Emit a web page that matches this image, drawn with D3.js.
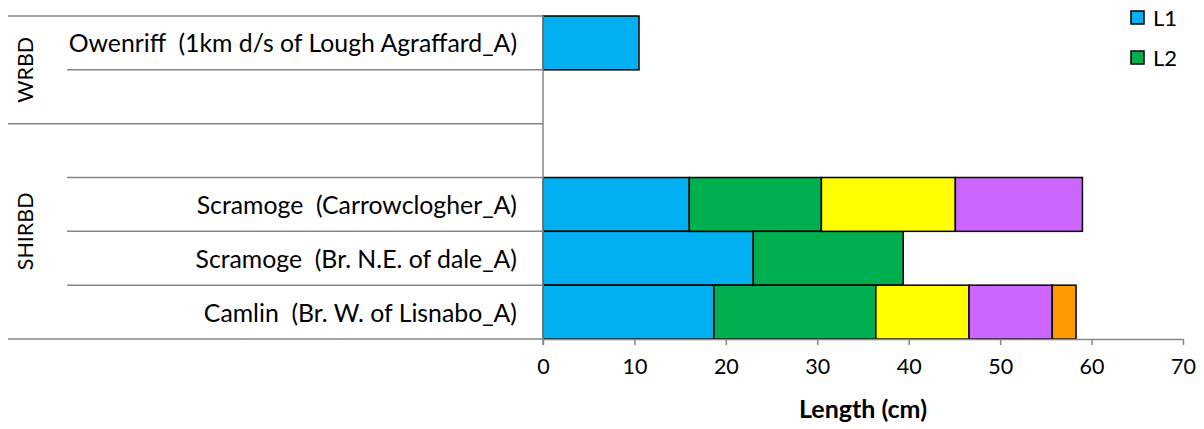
<!DOCTYPE html>
<html>
<head>
<meta charset="utf-8">
<script src="https://cdn.jsdelivr.net/npm/d3@7.9.0/dist/d3.min.js"></script>
<style>
  body { margin: 0; background: #fff; }
  text { font-family: Lato, "Open Sans", sans-serif; fill: #000; white-space: pre; }
</style>
</head>
<body>
<div id="chart"></div>
<script>
// ---------------------- Data ----------------------
const categories = [
  'Owenriff  (1km d/s of Lough Agraffard_A)',
  '',
  '',
  'Scramoge  (Carrowclogher_A)',
  'Scramoge  (Br. N.E. of dale_A)',
  'Camlin  (Br. W. of Lisnabo_A)'
];
const groups = ['WRBD', 'WRBD', 'SHIRBD', 'SHIRBD', 'SHIRBD', 'SHIRBD'];
const seriesNames = ['L1', 'L2', 'L3', 'L4', 'L5'];
const L1 = [10.5, 0, 0, 16.0, 23.0, 18.7];
const L2 = [0, 0, 0, 14.45, 16.4, 17.7];
const L3 = [0, 0, 0, 14.65, 0, 10.2];
const L4 = [0, 0, 0, 13.9, 0, 9.1];
const L5 = [0, 0, 0, 0, 0, 2.6];
const legendShown = ['L1', 'L2'];
const xTicks = [0, 10, 20, 30, 40, 50, 60, 70];
const colors = {L1: '#00B0F0', L2: '#00B050', L3: '#FFFF00', L4: '#CC66FF', L5: '#FF9900'};

// ---------------------- Chart ----------------------
const width = 1204, height = 429;
const plot = { left: 543, right: 1183, top: 16, bottom: 339 };
const gridColor = '#868686';

const svg = d3.select('#chart').append('svg')
  .attr('width', width)
  .attr('height', height);

const rows = categories.map((name, i) => ({
  id: i, name, group: groups[i],
  L1: L1[i], L2: L2[i], L3: L3[i], L4: L4[i], L5: L5[i]
}));

const x = d3.scaleLinear().domain([0, 70]).range([plot.left, plot.right]);
const y = d3.scaleBand().domain(rows.map(d => d.id)).range([plot.top, plot.bottom]).padding(0);

const stacked = d3.stack().keys(seriesNames)(rows);

// bars
svg.append('g').attr('class', 'bars')
  .selectAll('g')
  .data(stacked)
  .join('g')
  .attr('fill', d => colors[d.key])
  .selectAll('rect')
  .data(d => d.filter(s => s[1] - s[0] > 0))
  .join('rect')
  .attr('x', d => x(d[0]))
  .attr('y', d => y(d.data.id))
  .attr('width', d => x(d[1]) - x(d[0]))
  .attr('height', y.bandwidth())
  .attr('stroke', '#000')
  .attr('stroke-width', 1.5);

// category lines (multi-level axis)
const grp = svg.append('g').attr('class', 'cat-lines')
  .attr('stroke', gridColor).attr('stroke-width', 1.5);

const boundaries = d3.range(categories.length + 1).map(i => ({
  pos: plot.top + i * y.step(),
  groupEdge: i === 0 || i === categories.length || groups[i] !== groups[i - 1]
}));

grp.selectAll('line')
  .data(boundaries)
  .join('line')
  .attr('x1', d => d.groupEdge ? 8 : 67)
  .attr('x2', plot.left)
  .attr('y1', d => d.pos)
  .attr('y2', d => d.pos);

// category labels
svg.append('g').attr('class', 'cat-labels')
  .selectAll('text')
  .data(rows.filter(d => d.name))
  .join('text')
  .attr('x', plot.left - 26)
  .attr('y', d => y(d.id) + y.bandwidth() / 2)
  .attr('text-anchor', 'end')
  .attr('dominant-baseline', 'central')
  .attr('font-size', 24.8)
  .text(d => d.name);

// group labels
const groupSpans = d3.groups(rows, d => d.group).map(([g, items]) => ({
  g,
  mid: (y(items[0].id) + y(items[items.length - 1].id) + y.bandwidth()) / 2
}));

svg.append('g').attr('class', 'group-labels')
  .selectAll('text')
  .data(groupSpans)
  .join('text')
  .attr('transform', d => `translate(25, ${d.mid}) rotate(-90)`)
  .attr('text-anchor', 'middle')
  .attr('dominant-baseline', 'central')
  .attr('font-size', 21.5)
  .text(d => d.g);

// value axis (vertical line at 0)
svg.append('line')
  .attr('x1', plot.left).attr('x2', plot.left)
  .attr('y1', plot.top).attr('y2', plot.bottom + 6)
  .attr('stroke', gridColor).attr('stroke-width', 1.5);

// x axis
const xAxis = svg.append('g')
  .attr('class', 'x-axis')
  .attr('transform', `translate(0, ${plot.bottom})`)
  .call(d3.axisBottom(x).tickValues(xTicks).tickSize(6).tickSizeOuter(0).tickPadding(14));

xAxis.select('.domain').attr('stroke', gridColor).attr('stroke-width', 1.5);
xAxis.selectAll('.tick line').attr('stroke', gridColor).attr('stroke-width', 1.5);
xAxis.selectAll('.tick text')
  .attr('font-size', 21.5)
  .attr('font-family', 'Lato, sans-serif')
  .attr('fill', '#000');

svg.append('text')
  .attr('x', (plot.left + plot.right) / 2)
  .attr('y', 418)
  .attr('text-anchor', 'middle')
  .attr('font-size', 25)
  .attr('font-weight', 'bold')
  .text('Length (cm)');

// legend
const legend = svg.append('g').attr('class', 'legend')
  .selectAll('g')
  .data(legendShown)
  .join('g')
  .attr('transform', (d, i) => `translate(1131, ${11 + i * 40})`);

legend.append('rect')
  .attr('width', 13).attr('height', 13)
  .attr('fill', d => colors[d])
  .attr('stroke', '#000').attr('stroke-width', 1.5);

legend.append('text')
  .attr('x', 22)
  .attr('y', 6.5)
  .attr('dominant-baseline', 'central')
  .attr('font-size', 22)
  .text(d => d);
</script>
</body>
</html>
